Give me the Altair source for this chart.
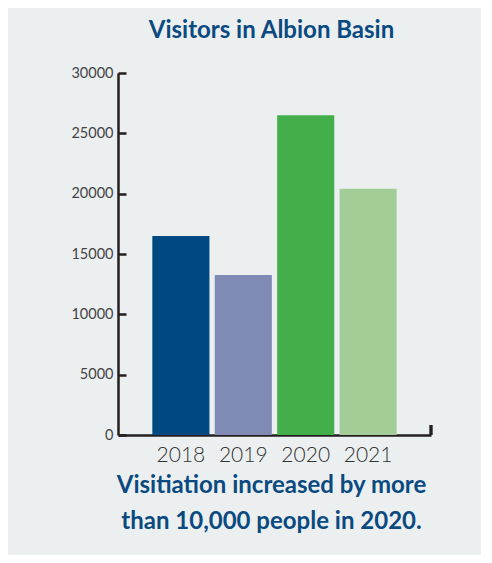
import altair as alt
import pandas as pd

years = ["2018", "2019", "2020", "2021"]
visitors = [16500, 13250, 26500, 20400]
bar_colors = ["#004881", "#7F8BB5", "#42AF4B", "#A2CD96"]
y_ticks = [0, 5000, 10000, 15000, 20000, 25000, 30000]
title_text = "Visitors in Albion Basin"
note_lines = ["Visitiation increased by more", "than 10,000 people in 2020."]

df = pd.DataFrame({"year": years, "visitors": visitors})

W, H = 313, 362
BLUE = "#0A4A80"
AXIS = "#231F20"

x_enc = alt.X(
    "year:N",
    sort=years,
    scale=alt.Scale(paddingInner=0.085, paddingOuter=0.55),
    axis=alt.Axis(
        title=note_lines,
        titleFontSize=24,
        titleFont="Lato",
        titleFontWeight="bold",
        titleColor=BLUE,
        titleLineHeight=36,
        titlePadding=8,
        titleX=153,
        labelAngle=0,
        labelFont="Lato",
        labelFontWeight=300,
        labelFontSize=21,
        labelColor="#333333",
        labelPadding=9,
        ticks=False,
        domainColor=AXIS,
        domainWidth=2.5,
    ),
)

y_scale = alt.Scale(domain=[0, 30000], nice=False)

bars = alt.Chart(df).mark_bar().encode(
    x=x_enc,
    y=alt.Y(
        "visitors:Q",
        scale=y_scale,
        axis=alt.Axis(
            title=None,
            values=y_ticks,
            format="d",
            ticks=False,
            grid=False,
            labelFont="Lato",
            labelFontSize=14.5,
            labelColor="#444444",
            labelPadding=5,
            domainColor=AXIS,
            domainWidth=2.5,
        ),
    ),
    color=alt.Color(
        "year:N",
        scale=alt.Scale(domain=years, range=bar_colors),
        legend=None,
    ),
)

inner_ticks = alt.Chart(df).mark_point(opacity=0).encode(
    x=alt.X("year:N", sort=years),
    y=alt.Y(
        "visitors:Q",
        scale=y_scale,
        axis=alt.Axis(
            orient="right",
            offset=-W,
            title=None,
            values=y_ticks,
            labels=False,
            domain=False,
            grid=False,
            ticks=True,
            tickSize=8,
            tickWidth=2.5,
            tickColor=AXIS,
        ),
    ),
)

end_tick = alt.Chart(df).mark_rule(color=AXIS, strokeWidth=2.5).encode(
    x=alt.value(W),
    y=alt.value(H - 10),
    y2=alt.value(H),
)

chart = (
    alt.layer(bars, inner_ticks, end_tick)
    .resolve_axis(y="independent")
    .properties(
        width=W,
        height=H,
        title=alt.TitleParams(
            title_text,
            font="Lato",
            fontSize=24,
            fontWeight="bold",
            color=BLUE,
            anchor="middle",
            offset=22,
            dx=-3,
        ),
        autosize=alt.AutoSizeParams(type="none"),
        padding={"left": 110, "top": 65, "right": 50, "bottom": 120},
        background="#ECEFF0",
    )
    .configure_view(stroke=None)
)

chart.save("out.html", embed_options={"renderer": "svg", "actions": False})
